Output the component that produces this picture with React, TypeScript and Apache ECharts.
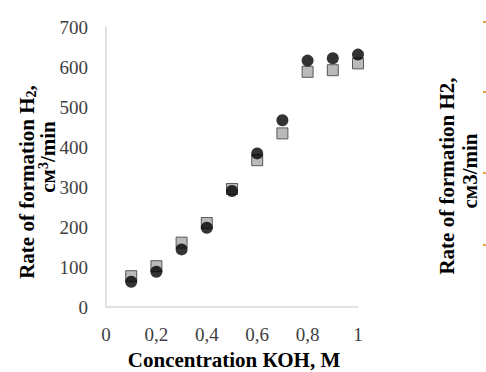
import React, { useEffect, useRef } from "react";
import * as echarts from "echarts";

const concentrations = [0.1, 0.2, 0.3, 0.4, 0.5, 0.6, 0.7, 0.8, 0.9, 1.0];
const squareValues = [77, 102, 161, 210, 295, 367, 434, 588, 592, 609];
const circleValues = [63, 88, 144, 198, 290, 384, 467, 616, 622, 631];
const yTicks = [0, 700, 100];
const xTicks = [0, 1, 0.2];
const rightEdgeMarks = [22, 92, 173, 245];

const serif = "'Liberation Serif', 'Times New Roman', serif";

export default function App() {
  const ref = useRef<HTMLDivElement>(null);
  useEffect(() => {
    if (!ref.current) return;
    const chart = echarts.init(ref.current, undefined, { renderer: "svg" });
    const sq = concentrations.map((x, i) => [x, squareValues[i]]);
    const ci = concentrations.map((x, i) => [x, circleValues[i]]);
    chart.setOption({
      animation: false,
      backgroundColor: "#ffffff",
      grid: { left: 106, right: 128, top: 27, bottom: 65, containLabel: false },
      xAxis: {
        type: "value",
        min: xTicks[0],
        max: xTicks[1],
        interval: xTicks[2],
        axisLine: { show: true, lineStyle: { color: "#d9d9d9", width: 1.5 } },
        axisTick: { show: false },
        splitLine: { show: false },
        axisLabel: {
          color: "#404040",
          fontFamily: serif,
          fontSize: 19,
          margin: 18,
          formatter: (v: number) => String(Math.round(v * 10) / 10).replace(".", ","),
        },
      },
      yAxis: {
        type: "value",
        min: yTicks[0],
        max: yTicks[1],
        interval: yTicks[2],
        axisLine: { show: true, lineStyle: { color: "#d9d9d9", width: 1.5 } },
        axisTick: { show: false },
        splitLine: { show: false },
        axisLabel: { color: "#404040", fontFamily: serif, fontSize: 19, margin: 18 },
      },
      series: [
        {
          type: "scatter",
          data: sq,
          symbol: "rect",
          symbolSize: 11,
          itemStyle: { color: "#aaa7a7", borderColor: "#3a3a3a", borderWidth: 1 },
          z: 2,
        },
        {
          type: "scatter",
          data: ci,
          symbol: "circle",
          symbolSize: 12,
          itemStyle: { color: "#000000" },
          z: 3,
        },
      ],
      graphic: [
        {
          type: "text",
          x: 27,
          y: 182,
          rotation: Math.PI / 2,
          style: {
            text: "{b|Rate of formation H}{s|2}{b|,}",
            align: "center",
            verticalAlign: "middle",
            rich: {
              b: { fontFamily: serif, fontWeight: "bold", fontSize: 21, fill: "#000", lineHeight: 23 },
              s: { fontFamily: serif, fontWeight: "bold", fontSize: 14, fill: "#000", lineHeight: 23, verticalAlign: "bottom", padding: [8, 0, 0, 0] },
            },
          },
        },
        {
          type: "text",
          x: 48,
          y: 157,
          rotation: Math.PI / 2,
          style: {
            text: "{b|см}{p|3}{b|/min}",
            align: "center",
            verticalAlign: "middle",
            rich: {
              b: { fontFamily: serif, fontWeight: "bold", fontSize: 21, fill: "#000", lineHeight: 23 },
              p: { fontFamily: serif, fontWeight: "bold", fontSize: 14, fill: "#000", lineHeight: 23, verticalAlign: "top", padding: [0, 0, 8, 0] },
            },
          },
        },
        {
          type: "text",
          x: 234,
          y: 360,
          style: {
            text: "Concentration КОН, М",
            align: "center",
            verticalAlign: "middle",
            fontFamily: serif,
            fontWeight: "bold",
            fontSize: 21,
            fill: "#000",
          },
        },
        {
          type: "text",
          x: 447,
          y: 176,
          rotation: Math.PI / 2,
          style: {
            text: "Rate of formation H2,",
            align: "center",
            verticalAlign: "middle",
            fontFamily: serif,
            fontWeight: "bold",
            fontSize: 21,
            fill: "#000",
          },
        },
        {
          type: "text",
          x: 470,
          y: 171,
          rotation: Math.PI / 2,
          style: {
            text: "см3/min",
            align: "center",
            verticalAlign: "middle",
            fontFamily: serif,
            fontWeight: "bold",
            fontSize: 21,
            fill: "#000",
          },
        },
        ...rightEdgeMarks.map((y) => ({
          type: "rect",
          shape: { x: 483, y: y - 1, width: 3, height: 2 },
          style: { fill: "#f0a040" },
        })),
      ],
    });
    return () => chart.dispose();
  }, []);
  return <div ref={ref} style={{ width: 486, height: 372, position: "absolute", left: 0, top: 0 }} />;
}
